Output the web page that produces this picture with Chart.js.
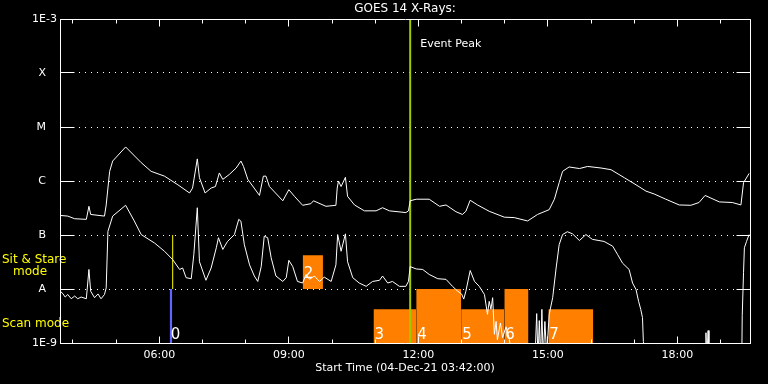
<!DOCTYPE html>
<html>
<head>
<meta charset="utf-8">
<title>GOES 14 X-Rays</title>
<script src="https://cdn.jsdelivr.net/npm/chart.js@4.4.1/dist/chart.umd.min.js"></script>
<style>
  html, body { margin: 0; padding: 0; background: #000; }
</style>
</head>
<body>
<canvas id="goes" width="768" height="384"></canvas>
<script>
// times are decimal hours UT on 04-Dec-21, flux in W/m^2
const longTime = [3.71, 3.88, 4.04, 4.31, 4.37, 4.41, 4.73, 4.77, 4.85, 4.92, 5.22, 5.58, 5.81, 6.12, 6.43, 6.70, 6.77, 6.88, 6.93, 7.06, 7.20, 7.30, 7.39, 7.47, 7.62, 7.78, 7.89, 7.95, 8.05, 8.32, 8.41, 8.47, 8.55, 8.86, 9.00, 9.13, 9.32, 9.51, 9.57, 9.86, 10.09, 10.12, 10.15, 10.21, 10.31, 10.36, 10.52, 10.75, 11.02, 11.17, 11.33, 11.71, 11.77, 11.81, 11.95, 12.25, 12.49, 12.64, 12.87, 13.02, 13.10, 13.20, 13.37, 13.64, 13.99, 14.22, 14.53, 14.76, 15.03, 15.15, 15.26, 15.34, 15.49, 15.73, 15.92, 16.23, 16.46, 16.77, 17.04, 17.27, 17.46, 17.73, 18.04, 18.31, 18.50, 18.64, 18.97, 19.27, 19.47, 19.53, 19.66];
const longFlux = [2.3e-7, 2.24e-7, 2.0e-7, 1.95e-7, 3.4e-7, 2.4e-7, 2.24e-7, 3.6e-7, 1.51e-6, 2.34e-6, 4.27e-6, 2.19e-6, 1.51e-6, 1.23e-6, 8.5e-7, 6.0e-7, 7.4e-7, 2.57e-6, 1.15e-6, 6.0e-7, 7.4e-7, 7.9e-7, 1.41e-6, 1.07e-6, 1.32e-6, 1.74e-6, 2.34e-6, 1.86e-6, 1.07e-6, 5.4e-7, 1.23e-6, 1.23e-6, 7.9e-7, 4.3e-7, 6.9e-7, 5.2e-7, 3.55e-7, 3.8e-7, 4.3e-7, 3.4e-7, 3.55e-7, 7.4e-7, 1.0e-6, 7.9e-7, 1.17e-6, 5.2e-7, 3.6e-7, 2.8e-7, 2.8e-7, 3.2e-7, 2.8e-7, 2.6e-7, 2.8e-7, 4.3e-7, 4.6e-7, 4.6e-7, 3.4e-7, 3.6e-7, 2.7e-7, 2.4e-7, 2.75e-7, 4.4e-7, 3.6e-7, 2.75e-7, 2.14e-7, 2.1e-7, 1.82e-7, 2.4e-7, 2.95e-7, 4.6e-7, 9.3e-7, 1.51e-6, 1.82e-6, 1.7e-6, 1.86e-6, 1.74e-6, 1.62e-6, 1.15e-6, 8.5e-7, 6.5e-7, 5.75e-7, 4.6e-7, 3.6e-7, 3.55e-7, 4.0e-7, 5.4e-7, 4.1e-7, 4.0e-7, 3.6e-7, 9.3e-7, 1.38e-6];

const shortTime = [3.71, 3.77, 3.82, 3.88, 3.96, 4.04, 4.11, 4.19, 4.31, 4.37, 4.41, 4.50, 4.58, 4.65, 4.73, 4.77, 4.81, 4.92, 5.22, 5.42, 5.58, 5.89, 6.12, 6.31, 6.47, 6.54, 6.62, 6.74, 6.80, 6.88, 6.93, 7.08, 7.20, 7.32, 7.37, 7.47, 7.58, 7.74, 7.84, 7.89, 7.97, 8.09, 8.20, 8.28, 8.36, 8.43, 8.51, 8.59, 8.70, 8.86, 8.94, 9.00, 9.09, 9.20, 9.32, 9.40, 9.48, 9.59, 9.71, 9.82, 9.98, 10.09, 10.13, 10.21, 10.31, 10.36, 10.48, 10.63, 10.79, 10.94, 11.10, 11.17, 11.29, 11.40, 11.56, 11.71, 11.77, 11.81, 11.95, 12.10, 12.25, 12.45, 12.64, 12.79, 12.91, 13.00, 13.05, 13.10, 13.20, 13.30, 13.41, 13.53, 13.60, 13.64, 13.68, 13.72, 13.76, 13.80, 13.83, 13.90, 13.95, 14.03, 14.11, 14.15, 14.70, 14.74, 14.77, 14.80, 14.83, 14.86, 14.89, 14.93, 14.97, 15.03, 15.11, 15.19, 15.26, 15.34, 15.45, 15.57, 15.73, 15.88, 16.03, 16.30, 16.50, 16.61, 16.73, 16.88, 16.96, 17.04, 17.10, 17.15, 17.19, 17.21, 17.25, 18.64, 18.66, 18.68, 18.71, 18.73, 19.49, 19.50, 19.53, 19.55, 19.60, 19.66];
const shortFlux = [9.1e-9, 8.1e-9, 7.1e-9, 7.9e-9, 6.6e-9, 7.4e-9, 6.6e-9, 7.1e-9, 6.6e-9, 2.3e-8, 9.1e-9, 6.9e-9, 8.1e-9, 6.6e-9, 7.9e-9, 1.05e-8, 1.17e-7, 2.24e-7, 3.55e-7, 1.82e-7, 1.02e-7, 7.1e-8, 5.0e-8, 3.5e-8, 2.3e-8, 2.45e-8, 1.62e-8, 1.55e-8, 4.4e-8, 3.2e-7, 3.2e-8, 1.45e-8, 2.45e-8, 5.8e-8, 8.9e-8, 5.4e-8, 7.6e-8, 1.02e-7, 1.95e-7, 1.8e-7, 6.6e-8, 2.8e-8, 1.74e-8, 1.38e-8, 2.6e-8, 9.5e-8, 8.9e-8, 3.8e-8, 1.74e-8, 1.38e-8, 1.62e-8, 3.4e-8, 2.6e-8, 1.38e-8, 1.29e-8, 1.86e-8, 1.51e-8, 1.74e-8, 1.38e-8, 1.66e-8, 1.38e-8, 2.8e-8, 1.02e-7, 5.0e-8, 1.05e-7, 3.2e-8, 1.62e-8, 1.29e-8, 1.12e-8, 1.38e-8, 1.45e-8, 1.74e-8, 1.29e-8, 1.38e-8, 1.12e-8, 1.12e-8, 1.38e-8, 2.6e-8, 2.35e-8, 2.3e-8, 1.86e-8, 1.55e-8, 1.51e-8, 1.12e-8, 9.1e-9, 8.1e-9, 6.5e-9, 9.1e-9, 2.2e-8, 1.38e-8, 1.12e-8, 7.9e-9, 3.4e-9, 5.9e-9, 4.2e-9, 6.9e-9, 1.45e-9, 2.5e-9, 1.15e-9, 2.35e-9, 1.26e-9, 2.0e-9, 1.15e-9, 5e-10, 5e-10, 3.5e-9, 5e-10, 2.6e-9, 5e-10, 4.2e-9, 5e-10, 2.5e-9, 6e-10, 3.4e-9, 6.9e-9, 2.45e-8, 6.6e-8, 1.02e-7, 1.15e-7, 1.05e-7, 7.9e-8, 1.02e-7, 8.3e-8, 7.6e-8, 6.2e-8, 4.4e-8, 3.0e-8, 2.3e-8, 1.29e-8, 9.8e-9, 5.9e-9, 4.2e-9, 2.95e-9, 1.07e-9, 5e-10, 5e-10, 1.55e-9, 5e-10, 1.7e-9, 5e-10, 5e-10, 3.2e-9, 2.0e-8, 5.8e-8, 7.6e-8, 1.02e-7];

const classTicks = [1e-9, 1e-8, 1e-7, 1e-6, 1e-5, 1e-4, 1e-3];
const classLabels = ['1E-9', 'A', 'B', 'C', 'M', 'X', '1E-3'];
const majorHours = [6, 9, 12, 15, 18];
const majorLabels = ['06:00', '09:00', '12:00', '15:00', '18:00'];
const minorHours = [4, 5, 7, 8, 10, 11, 13, 14, 16, 17, 19];

const peakTime = 11.81;
const sitStareTime = 6.31;

// observation blocks (0 = blue marker)
const blockIds = ['0', '2', '3', '4', '5', '6', '7'];
const blockStart = [6.24, 9.32, 10.96, 11.95, 12.99, 13.99, 15.01];
const blockEnd = [6.30, 9.79, 11.95, 12.99, 13.99, 14.55, 16.05];
const blockLow = [1e-9, 1e-8, 1e-9, 1e-9, 1e-9, 1e-9, 1e-9];
const blockHigh = [1e-8, 4.2e-8, 4.2e-9, 1e-8, 4.2e-9, 1e-8, 4.2e-9];

const timeMin = 3.7;
const timeMax = 19.68;
const fluxMin = 1e-9;
const fluxMax = 1e-3;

const toPoints = (xs, ys) => xs.map((t, i) => ({ x: t, y: ys[i] }));

const datasets = [
  {
    label: 'long',
    data: toPoints(longTime, longFlux),
    borderColor: '#ffffff',
    borderWidth: 1,
    pointRadius: 0,
    order: 1,
  },
  {
    label: 'short',
    data: toPoints(shortTime, shortFlux),
    borderColor: '#ffffff',
    borderWidth: 1,
    pointRadius: 0,
    order: 1,
  },
  {
    label: 'peak',
    data: [{ x: peakTime, y: fluxMin }, { x: peakTime, y: fluxMax }],
    borderColor: '#9ccc00',
    borderWidth: 2,
    pointRadius: 0,
    order: 2,
  },
  {
    label: 'sitstare',
    data: [{ x: sitStareTime, y: 1e-8 }, { x: sitStareTime, y: 1e-7 }],
    borderColor: '#ffff00',
    borderWidth: 1,
    pointRadius: 0,
    order: 3,
  },
];

blockIds.forEach((id, i) => {
  datasets.push({
    label: 'block ' + id,
    data: [{ x: blockStart[i], y: blockHigh[i] }, { x: blockEnd[i], y: blockHigh[i] }],
    borderWidth: 0,
    borderColor: 'rgba(0,0,0,0)',
    backgroundColor: id === '0' ? '#6464ff' : '#ff8000',
    fill: { value: blockLow[i] },
    pointRadius: 0,
    order: 4,
  });
});

const alignPx = (p) => Math.round(p - 0.5) + 0.5;

const goesDecor = {
  id: 'goesDecor',
  beforeDraw(chart) {
    const ctx = chart.ctx;
    ctx.save();
    ctx.fillStyle = '#000';
    ctx.fillRect(0, 0, chart.width, chart.height);
    ctx.restore();
  },
  afterDatasetsDraw(chart) {
    const { ctx, chartArea, scales: { x, y } } = chart;
    ctx.save();
    ctx.fillStyle = '#fff';
    ctx.textAlign = 'left';
    ctx.textBaseline = 'alphabetic';
    ctx.font = '15px "DejaVu Sans"';
    blockIds.forEach((id, i) => {
      const left = x.getPixelForValue(blockStart[i]);
      let base;
      if (blockLow[i] <= fluxMin) {
        base = chartArea.bottom - 4;
      } else {
        base = (y.getPixelForValue(blockLow[i]) + y.getPixelForValue(blockHigh[i])) / 2 + 6;
      }
      ctx.fillText(id, left + 1, base);
    });
    ctx.font = '11px "DejaVu Sans"';
    ctx.fillText('Event Peak', x.getPixelForValue(peakTime) + 10, chartArea.top + 28);
    ctx.fillStyle = '#ffff00';
    ctx.font = '12px "DejaVu Sans"';
    const aPx = y.getPixelForValue(1e-8);
    ctx.fillText('Sit & Stare', 2, aPx - 26);
    ctx.fillText('mode', 13, aPx - 14);
    ctx.fillText('Scan mode', 2, chartArea.bottom - 16);
    ctx.restore();
  },
  afterDraw(chart) {
    const { ctx, chartArea, scales: { x, y } } = chart;
    const l = alignPx(chartArea.left);
    const r = alignPx(chartArea.right);
    const t = alignPx(chartArea.top);
    const b = alignPx(chartArea.bottom);
    ctx.save();
    ctx.strokeStyle = '#fff';
    ctx.lineWidth = 1;
    ctx.beginPath();
    ctx.rect(l, t, r - l, b - t);
    classTicks.forEach((v) => {
      const py = alignPx(y.getPixelForValue(v));
      ctx.moveTo(l, py);
      ctx.lineTo(l + 14, py);
      ctx.moveTo(r, py);
      ctx.lineTo(r - 14, py);
    });
    const hourTick = (h, len) => {
      const px = alignPx(x.getPixelForValue(h));
      ctx.moveTo(px, t);
      ctx.lineTo(px, t + len);
      ctx.moveTo(px, b);
      ctx.lineTo(px, b - len);
    };
    majorHours.forEach((h) => hourTick(h, 7));
    minorHours.forEach((h) => hourTick(h, 4));
    ctx.stroke();
    ctx.restore();
  },
};

Chart.defaults.font.family = '"DejaVu Sans", sans-serif';
Chart.defaults.font.size = 11;
Chart.defaults.color = '#fff';

const ctx = document.getElementById('goes').getContext('2d');
new Chart(ctx, {
  type: 'line',
  data: { datasets },
  plugins: [goesDecor],
  options: {
    responsive: false,
    animation: false,
    layout: { padding: { right: 18 } },
    elements: { line: { tension: 0 } },
    plugins: {
      legend: { display: false },
      tooltip: { enabled: false },
      title: {
        display: true,
        text: 'GOES 14 X-Rays:',
        color: '#fff',
        fullSize: false,
        font: { size: 12, weight: 'normal' },
        padding: { top: 2, bottom: 2.6 },
      },
    },
    scales: {
      x: {
        type: 'linear',
        min: timeMin,
        max: timeMax,
        afterBuildTicks: (scale) => {
          scale.ticks = majorHours.map((h) => ({ value: h }));
        },
        afterFit: (scale) => {
          scale.height = 41;
        },
        ticks: {
          color: '#fff',
          padding: 6,
          maxRotation: 0,
          autoSkip: false,
          callback: (v, i) => majorLabels[i],
        },
        grid: { display: false, drawTicks: false },
        border: { display: true, color: '#fff' },
        title: {
          display: true,
          text: 'Start Time (04-Dec-21 03:42:00)',
          color: '#fff',
          padding: { top: 3, bottom: 9 },
        },
      },
      y: {
        type: 'logarithmic',
        min: fluxMin,
        max: fluxMax,
        afterBuildTicks: (scale) => {
          scale.ticks = classTicks.map((v) => ({ value: v }));
        },
        afterFit: (scale) => {
          scale.width = 60;
        },
        ticks: {
          color: '#fff',
          padding: 3,
          autoSkip: false,
          callback: (v, i) => (classLabels[i].length === 1 ? classLabels[i] + '\u2002\u2002' : classLabels[i]),
        },
        grid: {
          drawTicks: false,
          lineWidth: 1,
          color: (c) => (c.index === 0 || c.index === classTicks.length - 1 ? 'rgba(0,0,0,0)' : '#fff'),
        },
        border: { display: true, color: '#fff', dash: [1, 5] },
      },
    },
  },
});
</script>
</body>
</html>
